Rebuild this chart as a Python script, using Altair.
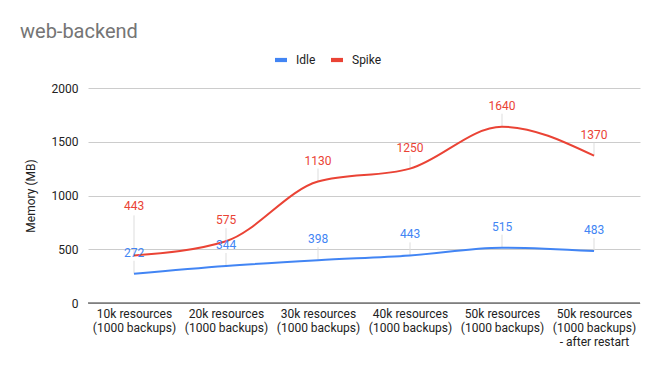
import altair as alt
import pandas as pd

categories = [
    "10k resources\n(1000 backups)",
    "20k resources\n(1000 backups)",
    "30k resources\n(1000 backups)",
    "40k resources\n(1000 backups)",
    "50k resources\n(1000 backups)",
    "50k resources\n(1000 backups)\n- after restart",
]
idle = [272, 344, 398, 443, 515, 483]
spike = [443, 575, 1130, 1250, 1640, 1370]
series_names = ["Idle", "Spike"]
colors = ["#4285f4", "#ea4335"]
chart_title = "web-backend"

rows = []
for i, c in enumerate(categories):
    rows.append({"cat": c, "series": "Idle", "value": idle[i], "idx": i})
    rows.append({"cat": c, "series": "Spike", "value": spike[i], "idx": i})
df = pd.DataFrame(rows)

FONT = "Roboto"

x = alt.X(
    "cat:N",
    sort=categories,
    scale=alt.Scale(type="point", padding=0.5),
    axis=alt.Axis(
        title=None,
        labelAngle=0,
        labelExpr="split(datum.label, '\\n')",
        labelFont=FONT,
        labelFontSize=12,
        labelColor="#222222",
        labelLineHeight=14,
        labelPadding=5,
        labelBaseline="top",
        ticks=False,
        domain=False,
        grid=False,
    ),
)
y = alt.Y(
    "value:Q",
    scale=alt.Scale(domain=[0, 2000], nice=False),
    axis=alt.Axis(
        title="Memory (MB)",
        titleFont=FONT,
        titleFontSize=12,
        titleFontWeight="normal",
        titleColor="#222222",
        titlePadding=14,
        values=[0, 500, 1000, 1500, 2000],
        format="d",
        labelFont=FONT,
        labelFontSize=12,
        labelColor="#222222",
        labelPadding=10,
        ticks=False,
        domain=False,
        gridColor="#cccccc",
    ),
)
color = alt.Color(
    "series:N",
    scale=alt.Scale(domain=series_names, range=colors),
    legend=alt.Legend(
        title=None,
        orient="none",
        direction="horizontal",
        legendX=187,
        legendY=-34,
        symbolType="M-1,-0.35L1,-0.35L1,0.35L-1,0.35Z",
        symbolSize=144,
        symbolStrokeWidth=0,
        labelOffset=9,
        labelFont=FONT,
        labelFontSize=12,
        labelColor="#222222",
        columnPadding=15,
    ),
)
label_color = alt.Color("series:N", scale=alt.Scale(domain=series_names, range=colors), legend=None)

base = alt.Chart(df)
is_first_spike = "datum.series == 'Spike' && datum.idx == 0"

leaders = base.transform_filter(f"!({is_first_spike})").mark_rule(
    color="#dddddd", strokeWidth=1, y2Offset=-13
).encode(x=x, y=y, y2="value:Q")

leader_first = base.transform_filter(is_first_spike).mark_rule(
    color="#dddddd", strokeWidth=1, y2Offset=-40
).encode(x=x, y=y, y2="value:Q")

zero = alt.Chart(pd.DataFrame({"z": [0]})).mark_rule(color="#333333", strokeWidth=1).encode(
    y=alt.Y("z:Q", scale=alt.Scale(domain=[0, 2000], nice=False))
)

lines = base.mark_line(interpolate="monotone", strokeWidth=2).encode(x=x, y=y, color=color)

labels = base.transform_filter(f"!({is_first_spike})").mark_text(
    dy=-21, baseline="middle", font=FONT, fontSize=12
).encode(x=x, y=y, text="value:Q", color=label_color)

label_first = base.transform_filter(is_first_spike).mark_text(
    dy=-49, baseline="middle", font=FONT, fontSize=12
).encode(x=x, y=y, text="value:Q", color=label_color)

title = alt.Chart(pd.DataFrame({"t": [chart_title]})).mark_text(
    align="left", baseline="alphabetic", font=FONT, fontSize=20, color="#757575"
).encode(x=alt.value(-68), y=alt.value(-50), text="t:N")

chart = alt.layer(leaders, leader_first, zero, lines, labels, label_first, title).properties(
    width=552,
    height=215,
    autosize=alt.AutoSizeParams(type="none"),
    padding={"left": 80, "top": 80, "right": 10, "bottom": 60},
).configure_view(stroke=None)

chart.save("out.html", embed_options={"renderer": "svg", "actions": False})
